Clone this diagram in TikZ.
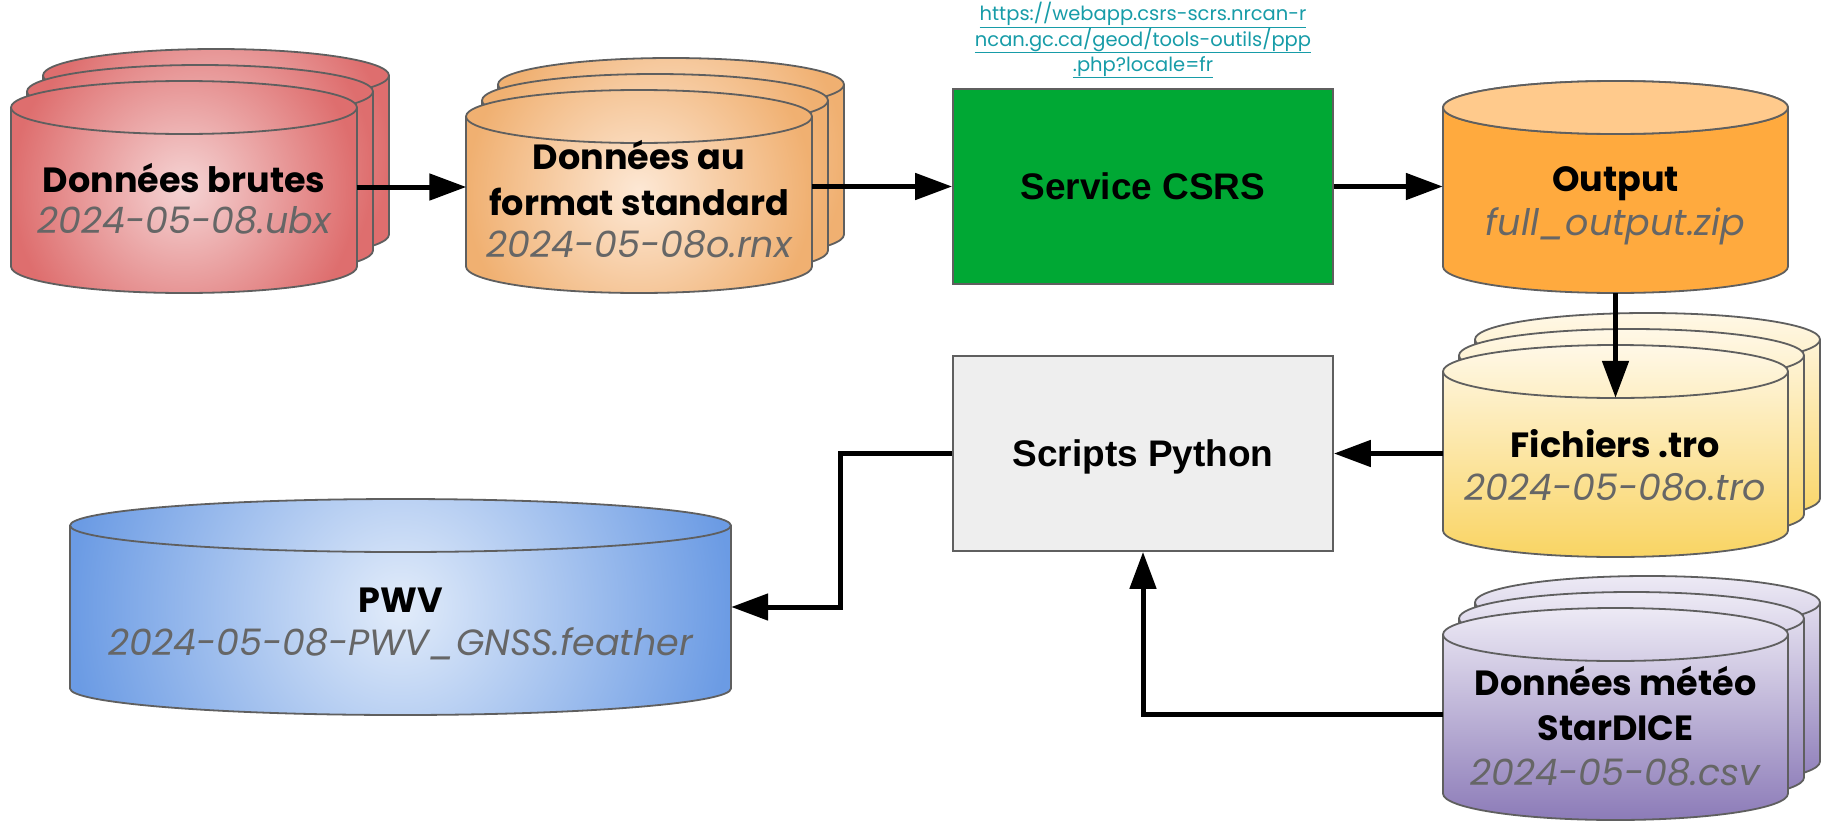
\documentclass[tikz,border=0pt]{standalone}
\usepackage{fontspec}
\setmainfont{Liberation Sans}
\newfontfamily\cylfont{Poppins}
\usetikzlibrary{arrows.meta}
\definecolor{cylstroke}{HTML}{5F5F5F}
\definecolor{txtgray}{HTML}{666666}
\definecolor{urlcol}{HTML}{179CA8}
\definecolor{svcgreen}{HTML}{00A834}
\definecolor{scrfill}{HTML}{EEEEEE}
\definecolor{redin}{HTML}{F5D4D4}
\definecolor{redout}{HTML}{DE6E6E}
\definecolor{orin}{HTML}{FDE8D5}
\definecolor{orout}{HTML}{F0B071}
\definecolor{outbody}{HTML}{FFAA3E}
\definecolor{outlid}{HTML}{FFCA8C}
\definecolor{yeltop}{HTML}{FFF8E7}
\definecolor{yelbot}{HTML}{F9D463}
\definecolor{purtop}{HTML}{EDEAF5}
\definecolor{purbot}{HTML}{8C7BB8}
\definecolor{bluein}{HTML}{E2ECFA}
\definecolor{blueout}{HTML}{6B9BE4}

% geometry of one cylinder: #1 x0, #2 top, #3 x1, #4 bottom
\newcommand{\cylgeom}[4]{%
  \pgfmathsetmacro\cylxa{#1}%
  \pgfmathsetmacro\cylya{#2}%
  \pgfmathsetmacro\cylxb{#3}%
  \pgfmathsetmacro\cylyb{#4}%
  \pgfmathsetmacro\cylrx{(\cylxb-\cylxa)/2}%
  \pgfmathsetmacro\cylcx{(\cylxb+\cylxa)/2}%
  \pgfmathsetmacro\cylcy{(\cylyb+\cylya)/2}%
  \pgfmathsetmacro\cylry{26.5}%
}
\newcommand{\cylbody}{(\cylxa,\cylya+\cylry) -- (\cylxa,\cylyb-\cylry)
     arc[start angle=180,end angle=360,x radius=\cylrx pt,y radius=\cylry pt]
     -- (\cylxb,\cylya+\cylry)
     arc[start angle=0,end angle=180,x radius=\cylrx pt,y radius=\cylry pt] -- cycle}
\newcommand{\cyllid}{(\cylxa,\cylya+\cylry)
     arc[start angle=180,end angle=360,x radius=\cylrx pt,y radius=\cylry pt]}
% cylinder with a plain or linear fill
\newcommand{\onecyl}[5]{%
  \cylgeom{#1}{#2}{#3}{#4}%
  \path[#5, cylline] \cylbody;
  \path[cylline] \cyllid;
}
% cylinder with a circular radial gradient
\newcommand{\onecylrad}[6]{%
  \cylgeom{#1}{#2}{#3}{#4}%
  \begin{scope}
    \clip \cylbody;
    \shade[inner color=#5, outer color=#6]
      (\cylcx-\cylrx,\cylcy-\cylrx) rectangle (\cylcx+\cylrx,\cylcy+\cylrx);
  \end{scope}
  \path[cylline] \cylbody;
  \path[cylline] \cyllid;
}
% stacks of three cylinders
\newcommand{\stackcyl}[5]{%
  \onecyl{#1+32}{#2-32}{#3+32}{#4-32}{#5}%
  \onecyl{#1+16}{#2-16}{#3+16}{#4-16}{#5}%
  \onecyl{#1}{#2}{#3}{#4}{#5}%
}
\newcommand{\stackcylrad}[6]{%
  \onecylrad{#1+32}{#2-32}{#3+32}{#4-32}{#5}{#6}%
  \onecylrad{#1+16}{#2-16}{#3+16}{#4-16}{#5}{#6}%
  \onecylrad{#1}{#2}{#3}{#4}{#5}{#6}%
}

\begin{document}
\begin{tikzpicture}[x=1pt,y=-1pt,
  cylline/.style={draw=cylstroke, line width=1.8pt},
  cylbold/.style={font=\cylfont\bfseries\fontsize{35}{43}\selectfont, inner sep=0pt, anchor=base, text=black},
  cylital/.style={font=\cylfont\itshape\fontsize{36.5}{43}\selectfont, inner sep=0pt, anchor=base, text=txtgray},
  urltxt/.style={font=\cylfont\fontsize{19.5}{25}\selectfont, text=urlcol, inner sep=0pt, anchor=base},
  proc/.style={draw=cylstroke, line width=1.8pt, minimum width=380pt, minimum height=195pt, inner sep=0pt,
     font=\bfseries\fontsize{37}{44}\selectfont, text depth=0pt},
  cylarea/.style={inner sep=0pt, minimum width=345pt, minimum height=212pt},
  arr/.style={line width=5pt, -{Triangle[length=37pt,width=26pt]}},
]
\useasboundingbox (0,0) rectangle (1823,822);
\fill[white] (0,0) rectangle (1823,822);

% ---- cylinders ----
\stackcylrad{11}{81}{357}{293}{redin}{redout}
\stackcylrad{466}{90}{812}{293}{orin}{orout}
\onecyl{1443}{81}{1788}{293}{fill=outbody}
\fill[outlid, cylline] (1615.5,107.5) ellipse [x radius=172.5pt, y radius=26.5pt];
\stackcyl{1443}{345}{1788}{557}{top color=yeltop, bottom color=yelbot}
\stackcyl{1443}{608}{1788}{820}{top color=purtop, bottom color=purbot}
\onecylrad{70}{499}{731}{715}{bluein}{blueout}

% ---- invisible areas of the cylinders ----
\node[cylarea] (brutes) at (184,187) {};
\node[cylarea, minimum height=203pt] (format) at (639,191.5) {};
\node[cylarea] (output) at (1615.5,187) {};
\node[cylarea] (fich) at (1615.5,451) {};
\node[cylarea] (meteo) at (1615.5,714) {};
\node[cylarea, minimum width=661pt, minimum height=216pt] (pwv) at (400.5,607) {};

% ---- cylinder labels ----
\node[cylbold] (brutesA) at (184,192) {Données brutes};
\node[cylital] (brutesB) at (184,233) {2024-05-08.ubx};
\node[cylbold] (formatA) at (639,169) {Données au};
\node[cylbold] (formatB) at (639,215) {format standard};
\node[cylital] (formatC) at (639,257) {2024-05-08o.rnx};
\node[cylbold] (outputA) at (1615.5,191) {Output};
\node[cylital] (outputB) at (1615.5,235) {full\_output.zip};
\node[cylbold] (fichA) at (1615.5,457) {Fichiers .tro};
\node[cylital] (fichB) at (1615.5,500) {2024-05-08o.tro};
\node[cylbold] (meteoA) at (1615.5,695) {Données météo};
\node[cylbold] (meteoB) at (1615.5,740) {StarDICE};
\node[cylital] (meteoC) at (1615.5,785) {2024-05-08.csv};
\node[cylbold] (pwvA) at (400.5,612) {PWV};
\node[cylital] (pwvB) at (400.5,655) {2024-05-08-PWV\_GNSS.feather};

% ---- process boxes ----
\node[proc, fill=svcgreen] (svc) at (1143,186.5) {Service CSRS};
\node[proc, fill=scrfill] (scripts) at (1143,453.5) {Scripts Python};

% ---- URL ----
\node[urltxt] (url1) at (1143,20.5) {\underline{https://webapp.csrs-scrs.nrcan-r}};
\node[urltxt] (url2) at (1143,46) {\underline{ncan.gc.ca/geod/tools-outils/ppp}};
\node[urltxt] (url3) at (1143,71) {\underline{.php?locale=fr}};

% ---- connectors ----
\draw[arr] (brutes.east) -- (brutes.east -| format.west);
\draw[arr] (format.east |- svc.west) -- (svc.west);
\draw[arr] (svc.east) -- (svc.east -| output.west);
\draw[arr] (output.south) -- ([yshift=-53pt]fich.north);
\draw[arr] (fich.west |- scripts.east) -- (scripts.east);
\draw[arr] (scripts.west) -- ++(-112,0) |- (pwv.east);
\draw[arr] (meteo.west) -| (scripts.south);
\end{tikzpicture}
\end{document}
